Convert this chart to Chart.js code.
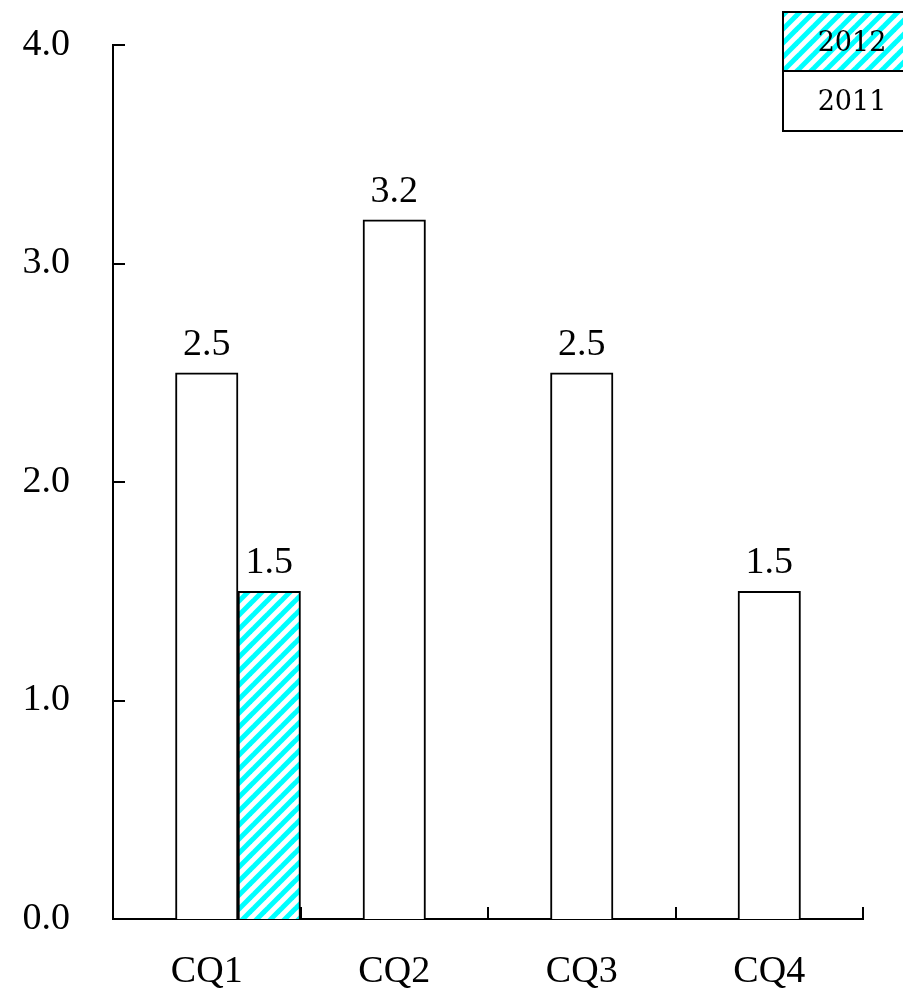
<!DOCTYPE html>
<html>
<head>
<meta charset="utf-8">
<script src="https://cdn.jsdelivr.net/npm/chart.js@4"></script>
<style>
  html, body { margin: 0; padding: 0; background: #fff; }
  #wrap { width: 903px; height: 996px; }
</style>
</head>
<body>
<div id="wrap"><canvas id="chart" width="903" height="996"></canvas></div>
<script>
// values
const categories = ['CQ1', 'CQ2', 'CQ3', 'CQ4'];
const values2011 = [2.5, 3.2, 2.5, 1.5];
const values2012 = [1.5, null, null, null];
const spacer = [null, null, null, null]; // empty slot so 2011 sits in the middle of each group
const yTicks = [0, 1, 2, 3, 4];

const serif = '"Liberation Serif", "Times New Roman", serif';

// cyan diagonal hatch
function makeHatch() {
    const n = 14;
    const c = document.createElement('canvas');
    c.width = n; c.height = n;
    const g = c.getContext('2d');
    g.fillStyle = '#ffffff';
    g.fillRect(0, 0, n, n);
    g.strokeStyle = '#00ffff';
    g.lineWidth = 5;
    [[-n / 2, n / 2, n / 2, -n / 2], [0, n, n, 0], [n / 2, n * 1.5, n * 1.5, n / 2]].forEach(s => {
        g.beginPath();
        g.moveTo(s[0], s[1]);
        g.lineTo(s[2], s[3]);
        g.stroke();
    });
    return g.createPattern(c, 'repeat');
}
const hatch = makeHatch();

// inner tick marks on both axes
const innerTicks = {
    id: 'innerTicks',
    afterDraw(chart) {
        const ctx = chart.ctx;
        const x = chart.scales.x, y = chart.scales.y;
        const area = chart.chartArea;
        ctx.save();
        ctx.strokeStyle = '#000';
        ctx.lineWidth = 2;
        yTicks.slice(1).forEach(v => {
            const py = Math.round(y.getPixelForValue(v));
            ctx.beginPath();
            ctx.moveTo(area.left, py);
            ctx.lineTo(area.left + 12, py);
            ctx.stroke();
        });
        for (let i = 0; i < categories.length; i++) {
            const px = i < categories.length - 1
                ? (x.getPixelForTick(i) + x.getPixelForTick(i + 1)) / 2
                : area.right;
            ctx.beginPath();
            ctx.moveTo(Math.round(px), area.bottom);
            ctx.lineTo(Math.round(px), area.bottom - 12);
            ctx.stroke();
        }
        ctx.restore();
    }
};

// value labels over bars
const valueLabels = {
    id: 'valueLabels',
    afterDatasetsDraw(chart) {
        const ctx = chart.ctx;
        ctx.save();
        ctx.font = '38px ' + serif;
        ctx.fillStyle = '#000';
        ctx.textAlign = 'center';
        ctx.textBaseline = 'alphabetic';
        [1, 2].forEach(di => {
            const meta = chart.getDatasetMeta(di);
            const data = chart.data.datasets[di].data;
            meta.data.forEach((el, i) => {
                if (data[i] === null) return;
                ctx.fillText(data[i].toFixed(1), el.x, el.y - 18);
            });
        });
        ctx.restore();
    }
};

// boxed legend in the top right corner
const boxLegend = {
    id: 'boxLegend',
    afterDraw(chart) {
        const ctx = chart.ctx;
        const left = 783, right = 921, top = 12, mid = 71, bottom = 131;
        ctx.save();
        ctx.fillStyle = hatch;
        ctx.fillRect(left, top, right - left, mid - top);
        ctx.fillStyle = '#fff';
        ctx.fillRect(left, mid, right - left, bottom - mid);
        ctx.strokeStyle = '#000';
        ctx.lineWidth = 2;
        ctx.strokeRect(left, top, right - left, bottom - top);
        ctx.beginPath();
        ctx.moveTo(left, mid);
        ctx.lineTo(right, mid);
        ctx.stroke();
        ctx.font = '27px "DejaVu Serif", serif';
        ctx.fillStyle = '#000';
        ctx.textAlign = 'center';
        ctx.textBaseline = 'middle';
        ctx.fillText('2012', 852, (top + mid) / 2 + 2);
        ctx.fillText('2011', 852, (mid + bottom) / 2 + 2);
        ctx.restore();
    }
};

new Chart(document.getElementById('chart'), {
    type: 'bar',
    data: {
        labels: categories,
        datasets: [
            { label: '', data: spacer, backgroundColor: '#fff' },
            {
                label: '2011',
                data: values2011,
                backgroundColor: '#ffffff',
                borderColor: '#000',
                borderWidth: 2
            },
            {
                label: '2012',
                data: values2012,
                backgroundColor: hatch,
                borderColor: '#000',
                borderWidth: 2
            }
        ]
    },
    options: {
        responsive: false,
        animation: false,
        categoryPercentage: 1.0,
        barPercentage: 1.0,
        layout: { padding: { top: 45, right: 40, left: 0, bottom: 0 } },
        plugins: {
            legend: { display: false },
            tooltip: { enabled: false }
        },
        scales: {
            x: {
                grid: { display: false, drawTicks: false },
                border: { display: true, color: '#000', width: 2 },
                ticks: { font: { family: serif, size: 38 }, color: '#000', padding: 30 },
                afterFit: s => { s.height = 77; s.paddingLeft = 0; s.paddingRight = 0; }
            },
            y: {
                min: 0,
                max: 4,
                grid: { display: false, drawTicks: false },
                border: { display: true, color: '#000', width: 2 },
                afterBuildTicks: s => { s.ticks = yTicks.map(v => ({ value: v })); },
                ticks: {
                    font: { family: serif, size: 38 },
                    color: '#000',
                    padding: 43,
                    callback: v => v.toFixed(1)
                },
                afterFit: s => { s.width = 113; s.paddingTop = 0; s.paddingBottom = 0; }
            }
        }
    },
    plugins: [innerTicks, valueLabels, boxLegend]
});
</script>
</body>
</html>
